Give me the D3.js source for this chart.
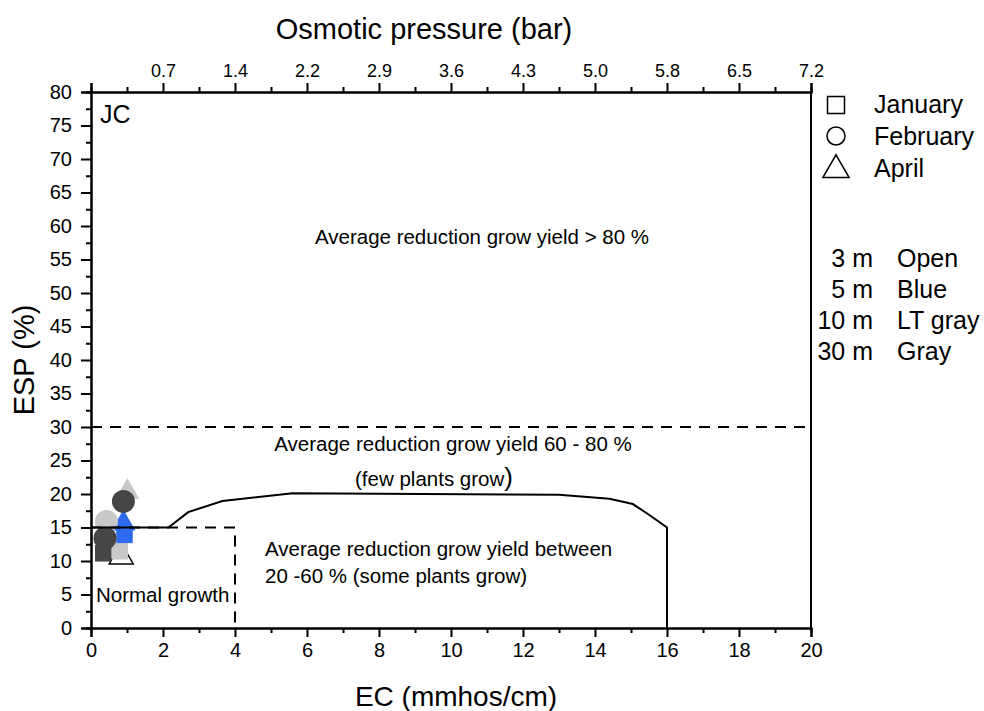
<!DOCTYPE html>
<html>
<head>
<meta charset="utf-8">
<script src="https://cdn.jsdelivr.net/npm/d3@7"></script>
<style>
  body { margin: 0; background: #fff; }
  text { font-family: "Liberation Sans", Arial, sans-serif; fill: #000; }
</style>
</head>
<body>
<div class="chart"></div>
<script>
// EC ticks and the matching osmotic pressure labels on the top axis
const ecTicks = [0, 2, 4, 6, 8, 10, 12, 14, 16, 18, 20];
const osmoticLabels = ["", "0.7", "1.4", "2.2", "2.9", "3.6", "4.3", "5.0", "5.8", "6.5", "7.2"];
const espTicks = d3.range(0, 81, 5);

// boundary between 20-60 % and 60-80 % yield reduction
const boundaryEC  = [0, 2.15, 2.7, 3.65, 5.6, 13.0, 14.4, 15.05, 15.5, 16.0, 16.0];
const boundaryESP = [15, 15, 17.3, 18.95, 20.1, 19.9, 19.3, 18.5, 16.9, 15.0, 0];

// normal growth box and the 30 % line
const normalBoxEC  = [0, 4, 4];
const normalBoxESP = [15, 15, 0];
const limitESP = 30;

// samples: month, depth, EC, ESP (drawn in this order)
const sampleMonth = ["April", "April", "January", "January", "April", "February", "February", "February", "January"];
const sampleDepth = ["10 m", "3 m", "10 m", "5 m", "5 m", "30 m", "10 m", "30 m", "30 m"];
const sampleEC    = [1.01, 0.84, 0.80, 0.93, 0.90, 0.90, 0.43, 0.39, 0.34];
const sampleESP   = [20.3, 10.6, 11.45, 13.9, 15.6, 18.9, 15.9, 13.4, 11.15];

const months = ["January", "February", "April"];
const depths = ["3 m", "5 m", "10 m", "30 m"];
const depthNames = ["Open", "Blue", "LT gray", "Gray"];
const depthColor = {"3 m": "#ffffff", "5 m": "#2f6bf0", "10 m": "#c8c8c8", "30 m": "#464646"};
const monthShape = {"January": d3.symbolSquare, "February": d3.symbolCircle, "April": d3.symbolTriangle};
const monthSize = {"January": 272, "February": 415, "April": 250};

const width = 984, height = 711;
const margin = {top: 92, right: 173, bottom: 83, left: 91};

const svg = d3.select(".chart").append("svg")
    .attr("width", width)
    .attr("height", height);

const x = d3.scaleLinear().domain([0, 20]).range([margin.left, width - margin.right]);
const y = d3.scaleLinear().domain([0, 80]).range([height - margin.bottom, margin.top]);

// axes
const xAxis = d3.axisBottom(x).tickValues(ecTicks).tickSize(9).tickPadding(6).tickFormat(d3.format("d"));
const xMinor = d3.axisBottom(x).tickValues(d3.range(1, 20, 2)).tickSize(5).tickFormat("");
const topAxis = d3.axisTop(x).tickValues(ecTicks).tickSize(9).tickPadding(6)
    .tickFormat((d, i) => osmoticLabels[i]);
const topMinor = d3.axisTop(x).tickValues(d3.range(1, 20, 2)).tickSize(5).tickFormat("");
const yAxis = d3.axisLeft(y).tickValues(espTicks).tickSize(10).tickPadding(9).tickFormat(d3.format("d"));
const yMinor = d3.axisLeft(y).tickValues(d3.range(2.5, 80, 5)).tickSize(5).tickFormat("");

function styleAxis(g, size) {
  g.select(".domain").attr("stroke-width", 2);
  g.selectAll(".tick line").attr("stroke-width", 2);
  g.selectAll("text").style("font-size", size + "px").attr("fill", "#000");
}

svg.append("g").attr("transform", `translate(0,${y(0)})`).call(xAxis).call(styleAxis, 20);
svg.append("g").attr("transform", `translate(0,${y(0)})`).call(xMinor).call(styleAxis, 20);
svg.append("g").attr("transform", `translate(0,${y(80)})`).call(topAxis).call(styleAxis, 18);
svg.append("g").attr("transform", `translate(0,${y(80)})`).call(topMinor).call(styleAxis, 18);
svg.append("g").attr("transform", `translate(${x(0)},0)`).call(yAxis).call(styleAxis, 20);
svg.append("g").attr("transform", `translate(${x(0)},0)`).call(yMinor).call(styleAxis, 20);
svg.append("line")
    .attr("x1", x(20)).attr("x2", x(20)).attr("y1", y(0)).attr("y2", y(80))
    .attr("stroke", "#000").attr("stroke-width", 2);

// axis titles
svg.append("text").attr("x", 424).attr("y", 39).attr("text-anchor", "middle")
    .style("font-size", "29px").text("Osmotic pressure (bar)");
svg.append("text").attr("x", 456).attr("y", 706).attr("text-anchor", "middle")
    .style("font-size", "28px").text("EC (mmhos/cm)");
svg.append("text").attr("transform", `translate(34,${(y(0) + y(80)) / 2}) rotate(-90)`)
    .attr("text-anchor", "middle").style("font-size", "29px").text("ESP (%)");

// samples (under the region lines)
const sym = d3.symbol();
svg.append("g").selectAll("path")
  .data(d3.range(sampleEC.length))
  .join("path")
    .attr("transform", i => `translate(${x(sampleEC[i])},${y(sampleESP[i])})`)
    .attr("d", i => sym.type(monthShape[sampleMonth[i]]).size(monthSize[sampleMonth[i]])())
    .attr("fill", i => depthColor[sampleDepth[i]])
    .attr("stroke", i => sampleDepth[i] === "3 m" ? "#000" : "none")
    .attr("stroke-width", 1.5);

// region lines
const line = d3.line().x(d => x(d[0])).y(d => y(d[1]));
svg.append("path")
    .attr("d", line(d3.zip(normalBoxEC, normalBoxESP)))
    .attr("fill", "none").attr("stroke", "#000").attr("stroke-width", 2)
    .attr("stroke-dasharray", "11,8");
svg.append("path")
    .attr("d", line([[0, limitESP], [20, limitESP]]))
    .attr("fill", "none").attr("stroke", "#000").attr("stroke-width", 2)
    .attr("stroke-dasharray", "11,8");
svg.append("path")
    .attr("d", line(d3.zip(boundaryEC, boundaryESP)))
    .attr("fill", "none").attr("stroke", "#000").attr("stroke-width", 2);

// region labels
const label = (tx, ty, t, anchor, size) => svg.append("text")
    .attr("x", tx).attr("y", ty).attr("text-anchor", anchor || "middle")
    .style("font-size", (size || 20.5) + "px").text(t);
label(100, 123, "JC", "start", 25);
label(482, 244, "Average reduction grow yield > 80 %");
label(453, 451, "Average reduction grow yield 60 - 80 %");
const few = label(434, 486, "(few plants grow");
few.append("tspan").style("font-size", "26px").text(")");
label(265, 556, "Average reduction grow yield between", "start");
label(265, 583, "20 -60 % (some plants grow)", "start");
label(96, 602, "Normal growth", "start");

// legend
const leg = svg.append("g");
const legendSymY = [105, 136, 170];
const legendSymSize = {"January": 289, "February": 254, "April": 300};
months.forEach((m, i) => {
  leg.append("path")
    .attr("transform", `translate(836,${legendSymY[i]})`)
    .attr("d", d3.symbol().type(monthShape[m]).size(legendSymSize[m])())
    .attr("fill", "none").attr("stroke", "#000").attr("stroke-width", 1.5);
  leg.append("text").attr("x", 874).attr("y", 113 + i * 32).style("font-size", "25px").text(m);
});
depths.forEach((dp, i) => {
  const ly = 267 + i * 31;
  leg.append("text").attr("x", 873).attr("y", ly).attr("text-anchor", "end")
    .style("font-size", "25px").text(dp);
  leg.append("text").attr("x", 897).attr("y", ly).style("font-size", "25px").text(depthNames[i]);
});
</script>
</body>
</html>
